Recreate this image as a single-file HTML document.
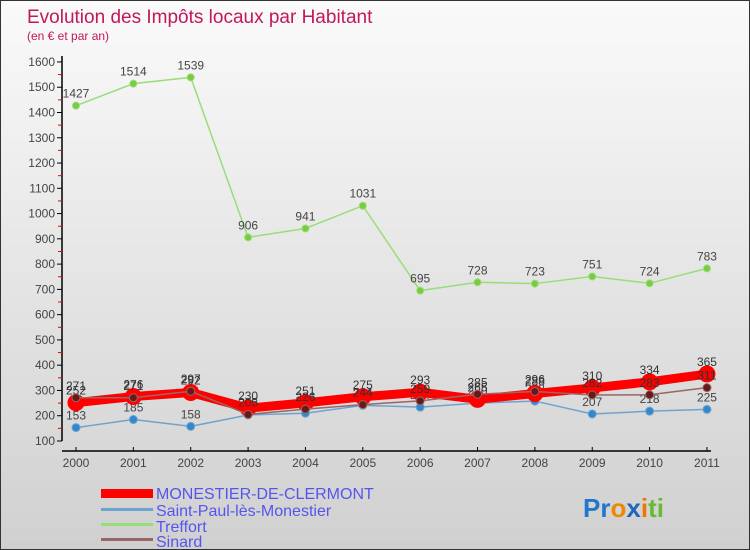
<!DOCTYPE html>
<html><head><meta charset="utf-8"><style>
body{margin:0;}
#c{position:relative;width:748px;height:548px;border:1px solid #333;background:linear-gradient(#fafafa,#d0d0d0);font-family:"Liberation Sans",sans-serif;overflow:hidden}
</style></head><body>
<div id="c">
<svg id="s" width="748" height="548" style="position:absolute;left:0;top:0">
<text x="26" y="22" font-size="19" fill="#c2185b">Evolution des Impôts locaux par Habitant</text>
<text x="26" y="39" font-size="12" fill="#c2185b">(en € et par an)</text>
<g id="axes"></g><g id="series"></g>
<g>
<rect x="100" y="488" width="52" height="9" fill="#ff0000"/>
<text x="155" y="498" font-size="16" fill="#5555ee">MONESTIER-DE-CLERMONT</text>
<rect x="100" y="507" width="52" height="3" fill="#6fa3cf"/>
<text x="155" y="515" font-size="16" fill="#5555ee">Saint-Paul-lès-Monestier</text>
<rect x="100" y="522" width="52" height="3" fill="#99dd77"/>
<text x="155" y="531" font-size="16" fill="#5555ee">Treffort</text>
<rect x="100" y="537" width="52" height="3" fill="#996666"/>
<text x="155" y="546" font-size="16" fill="#5555ee">Sinard</text>
</g>
<g font-size="26" font-weight="bold">
<text x="582" y="516"><tspan fill="#2277cc">Pr</tspan><tspan fill="#ee8800">o</tspan><tspan fill="#2266bb">x</tspan><tspan fill="#ee7700">i</tspan><tspan fill="#66bb33">ti</tspan></text>
</g>
</svg>
</div>
<script>
const years=["2000","2001","2002","2003","2004","2005","2006","2007","2008","2009","2010","2011"];
const yTicks=[100,200,300,400,500,600,700,800,900,1000,1100,1200,1300,1400,1500,1600];
const monestier=[252,276,292,230,251,275,293,265,288,310,334,365];
const saintPaul=[153,185,158,203,210,241,234,250,258,207,218,225];
const treffort=[1427,1514,1539,906,941,1031,695,728,723,751,724,783];
const sinard=[271,271,297,205,226,244,259,285,296,282,283,311];
const NS="http://www.w3.org/2000/svg";
function X(i){return 75+i*57.36;}
function Y(v){return 440-(v-100)*0.2527;}
function el(t,a,p){const e=document.createElementNS(NS,t);for(const k in a)e.setAttribute(k,a[k]);p.appendChild(e);return e;}
const ax=document.getElementById('axes');
const yl=el('line',{x1:61,y1:55,x2:61,y2:440,stroke:'#000','stroke-width':1.5},ax);


const xl=el('line',{x1:61,y1:450,x2:710,y2:450,stroke:'#000','stroke-width':1.5},ax);


yTicks.forEach(v=>{
  el('line',{x1:56,y1:Y(v),x2:61,y2:Y(v),stroke:'#000'},ax);
  if(v<1600) el('line',{x1:57,y1:Y(v+50),x2:61,y2:Y(v+50),stroke:'#e00'},ax);
  const t=el('text',{x:54,y:Y(v)+4,'font-size':12,'text-anchor':'end',fill:'#444'},ax);t.textContent=v;
  
  
});
years.forEach((y,i)=>{
  el('line',{x1:X(i),y1:446,x2:X(i),y2:450,stroke:'#000'},ax);
  const t=el('text',{x:X(i),y:466,'font-size':12,'text-anchor':'middle',fill:'#444'},ax);t.textContent=y;
  
  
});
const sg=document.getElementById('series');
function draw(data,name,color,w,r,dot,labelColor){
  const g=el('g',{},sg);
  
  
  el('polyline',{points:data.map((v,i)=>X(i)+','+Y(v)).join(' '),fill:'none',stroke:color,'stroke-width':w,'stroke-linejoin':'round'},g);
  data.forEach((v,i)=>{
    const c=el('circle',{cx:X(i),cy:Y(v),r:r,fill:dot,stroke:color,'stroke-width':1},g);
    
    
    const t=el('text',{x:X(i),y:Y(v)-8,'font-size':12,'text-anchor':'middle',fill:labelColor},g);t.textContent=v;
    
    
  });
}
draw(treffort,'treffort','#99dd77',1.5,3.5,'#77cc44','#444');
draw(saintPaul,'saint-paul','#6fa3cf',1.5,4,'#3388cc','#444');
draw(monestier,'monestier','#ff0000',9,8,'#ff0000','#333');
draw(sinard,'sinard','#996666',1.5,4,'#661a1a','#333');
</script>
</body></html>
